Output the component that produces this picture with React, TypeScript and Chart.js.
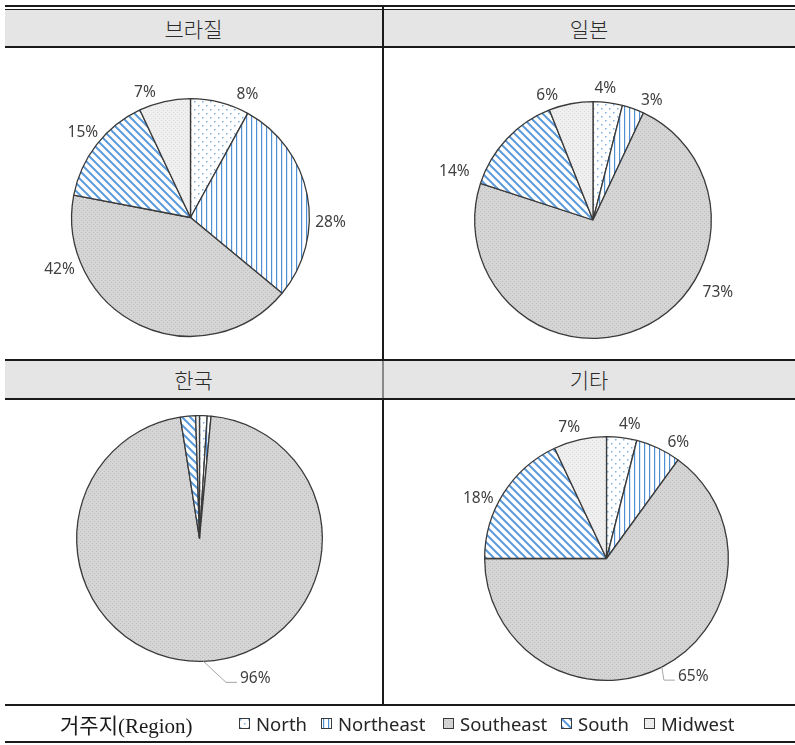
import React, { useEffect, useRef } from "react";
import { Chart, registerables } from "chart.js";

Chart.register(...registerables);

// ---- data ----
const regions = ["North", "Northeast", "Southeast", "South", "Midwest"];
const panelTitles = ["브라질", "일본", "한국", "기타"];
const brazilShare = [8, 28, 42, 15, 7];
const japanShare = [4, 3, 73, 14, 6];
const koreaShare = [1, 0.5, 96, 2, 0.5];
const otherShare = [4, 6, 65, 18, 7];
const legendTitle = "거주지(Region)";

// ---- layout ----
const W = 795;
const H = 745;
const PAD = 62;
const LABEL_FONT = 15.5;

type PanelLayout = {
  values: number[];
  cx: number;
  cy: number;
  r: number;
  nudge: number[]; // degrees added to each slice's label angle
  extraGap: number[]; // extra distance of each label from the rim
  leader: boolean[];
  leaderGap: number;
};

const panels: PanelLayout[] = [
  { values: brazilShare, cx: 190, cy: 217.5, r: 119.5, nudge: [10, 13, 42, 2, -7], extraGap: [2, 0, 2, 0, 0], leader: [false, false, false, false, false], leaderGap: 18 },
  { values: japanShare, cx: 592.5, cy: 220, r: 119, nudge: [-2, 6, -35, -23, -9], extraGap: [0, 0, 7, 8, 0], leader: [false, false, false, false, false], leaderGap: 18 },
  { values: koreaShare, cx: 199, cy: 538, r: 123.5, nudge: [0, 0, -19, 0, 0], extraGap: [0, 0, 0, 0, 0], leader: [false, false, true, false, false], leaderGap: 19 },
  { values: otherShare, cx: 606, cy: 558, r: 122.5, nudge: [2.5, 6, -8, -6, -3], extraGap: [0, 0, 0, 0, 0], leader: [false, false, true, false, false], leaderGap: 14 },
];

const legendX = [239, 321, 443, 561, 644];

// ---- fill patterns ----
function makePattern(kind: number): CanvasPattern | string {
  const c = document.createElement("canvas");
  const g = c.getContext("2d");
  if (!g) return "#ccc";
  const blue = "#4f8fd6";
  if (kind === 0) {
    // sparse dots
    c.width = 8;
    c.height = 8;
    g.fillStyle = "#ffffff";
    g.fillRect(0, 0, 8, 8);
    g.fillStyle = "#7fb0e4";
    g.fillRect(1, 1, 1.5, 1.5);
    g.fillRect(5, 5, 1.5, 1.5);
  } else if (kind === 1) {
    // vertical lines
    c.width = 5;
    c.height = 5;
    g.fillStyle = "#ffffff";
    g.fillRect(0, 0, 5, 5);
    g.fillStyle = blue;
    g.fillRect(2, 0, 1.2, 5);
  } else if (kind === 2) {
    // grey with fine grain
    c.width = 4;
    c.height = 4;
    g.fillStyle = "#d5d5d5";
    g.fillRect(0, 0, 4, 4);
    g.fillStyle = "#bcbcbc";
    g.fillRect(0, 0, 1, 1);
    g.fillRect(2, 2, 1, 1);
  } else if (kind === 3) {
    // wide downward diagonal
    c.width = 8;
    c.height = 8;
    g.fillStyle = "#ffffff";
    g.fillRect(0, 0, 8, 8);
    g.strokeStyle = "#5b9bdc";
    g.lineWidth = 2;
    for (let k = -1; k <= 1; k++) {
      g.beginPath();
      g.moveTo(-2, -2 + 8 * k);
      g.lineTo(10, 10 + 8 * k);
      g.stroke();
    }
  } else {
    // light grey with fine grain
    c.width = 4;
    c.height = 4;
    g.fillStyle = "#efefef";
    g.fillRect(0, 0, 4, 4);
    g.fillStyle = "#dcdcdc";
    g.fillRect(0, 0, 1, 1);
    g.fillRect(2, 2, 1, 1);
  }
  return g.createPattern(c, "repeat") || "#ccc";
}

// ---- outside percentage labels ----
const sliceLabels = {
  id: "sliceLabels",
  afterDatasetsDraw(chart: any, _args: any, opts: any) {
    const ctx: CanvasRenderingContext2D = chart.ctx;
    const meta = chart.getDatasetMeta(0);
    const values: number[] = chart.data.datasets[0].data;
    ctx.save();
    ctx.font = `${LABEL_FONT}px "Noto Sans", "DejaVu Sans", sans-serif`;
    ctx.fillStyle = "#404040";
    ctx.textAlign = "center";
    ctx.textBaseline = "middle";
    meta.data.forEach((arc: any, i: number) => {
      const v = values[i];
      if (v < 3) return;
      const p = arc.getProps(["x", "y", "startAngle", "endAngle", "outerRadius"], true);
      const mid = (p.startAngle + p.endAngle) / 2;
      const a = mid + ((opts.nudge?.[i] ?? 0) * Math.PI) / 180;
      const dx = Math.cos(a);
      const dy = Math.sin(a);
      const text = `${v}%`;
      const w = ctx.measureText(text).width;
      const h = LABEL_FONT;
      const hasLeader = !!opts.leader?.[i];
      const gap = hasLeader ? opts.leaderGap : 6 + (opts.extraGap?.[i] ?? 0);
      const lx = p.x + (p.outerRadius + gap) * dx + (dx * w) / 2;
      const ly = p.y + (p.outerRadius + gap) * dy + (dy * h) / 2;
      if (hasLeader) {
        const ex = p.x + p.outerRadius * Math.cos(mid);
        const ey = p.y + p.outerRadius * Math.sin(mid);
        const endX = lx - w / 2 - 3;
        const lineY = ly + 4;
        ctx.save();
        ctx.strokeStyle = "#a6a6a6";
        ctx.lineWidth = 1;
        ctx.beginPath();
        ctx.moveTo(ex, ey);
        ctx.lineTo(endX - 11, lineY);
        ctx.lineTo(endX, lineY);
        ctx.stroke();
        ctx.restore();
      }
      ctx.fillText(text, lx, ly);
    });
    ctx.restore();
  },
};

function PiePanel({ layout }: { layout: PanelLayout }) {
  const ref = useRef<HTMLCanvasElement>(null);
  const size = Math.round(2 * (layout.r + PAD));
  useEffect(() => {
    if (!ref.current) return;
    const fills = regions.map((_, i) => makePattern(i));
    const chart = new Chart(ref.current, {
      type: "pie",
      data: {
        labels: regions,
        datasets: [
          {
            data: layout.values,
            backgroundColor: fills as any,
            borderColor: "#3a3a3a",
            borderWidth: 1.3,
          },
        ],
      },
      options: {
        responsive: false,
        animation: false,
        layout: { padding: PAD },
        plugins: {
          legend: { display: false },
          tooltip: { enabled: false },
          sliceLabels: {
            nudge: layout.nudge,
            extraGap: layout.extraGap,
            leader: layout.leader,
            leaderGap: layout.leaderGap,
          },
        } as any,
      },
      plugins: [sliceLabels],
    });
    return () => chart.destroy();
  }, [layout]);
  return (
    <canvas
      ref={ref}
      width={size}
      height={size}
      style={{
        position: "absolute",
        left: layout.cx - size / 2,
        top: layout.cy - size / 2,
        width: size,
        height: size,
      }}
    />
  );
}

function Swatch({ kind }: { kind: number }) {
  const ref = useRef<HTMLCanvasElement>(null);
  useEffect(() => {
    const c = ref.current;
    if (!c) return;
    const g = c.getContext("2d");
    if (!g) return;
    g.clearRect(0, 0, 11, 11);
    g.fillStyle = makePattern(kind) as any;
    g.fillRect(0.5, 0.5, 10, 10);
    g.strokeStyle = "#3a3a3a";
    g.lineWidth = 1;
    g.strokeRect(0.5, 0.5, 10, 10);
  }, [kind]);
  return <canvas ref={ref} width={11} height={11} style={{ width: 11, height: 11, display: "block" }} />;
}

const line = (left: number, top: number, width: number, height: number, color = "#1a1a1a"): React.CSSProperties => ({
  position: "absolute",
  left,
  top,
  width,
  height,
  background: color,
});

const headerText: React.CSSProperties = {
  position: "absolute",
  display: "flex",
  alignItems: "center",
  justifyContent: "center",
  fontFamily: '"Noto Sans CJK KR", "Noto Sans", sans-serif',
  fontSize: 21,
  fontWeight: 300,
  color: "#2a2a2a",
};

export default function App() {
  return (
    <div style={{ position: "fixed", left: 0, top: 0, width: W, height: H, background: "#ffffff", overflow: "hidden" }}>
      {/* top header band */}
      <div style={line(5, 5, W - 5, 2)} />
      <div style={line(5, 9, W - 5, 1)} />
      <div style={line(5, 10, W - 5, 36, "#e5e5e5")} />
      <div style={line(5, 46, W - 5, 2)} />
      {/* middle header band */}
      <div style={line(5, 359, W - 5, 1.5)} />
      <div style={line(5, 360.5, W - 5, 37.5, "#e5e5e5")} />
      <div style={line(5, 398, W - 5, 1.5)} />
      {/* column divider */}
      <div style={line(382, 5, 1.5, 699)} />
      <div style={line(382, 360.5, 1.5, 37.5, "#8a8a8a")} />
      {/* legend band */}
      <div style={line(5, 704, W - 5, 2)} />
      <div style={line(5, 741, W - 5, 2)} />

      <div style={{ ...headerText, left: 5, top: 10, width: 377, height: 36 }}>{panelTitles[0]}</div>
      <div style={{ ...headerText, left: 383, top: 10, width: 412, height: 36 }}>{panelTitles[1]}</div>
      <div style={{ ...headerText, left: 5, top: 360, width: 377, height: 38 }}>{panelTitles[2]}</div>
      <div style={{ ...headerText, left: 383, top: 360, width: 412, height: 38 }}>{panelTitles[3]}</div>

      {panels.map((p, i) => (
        <PiePanel key={i} layout={p} />
      ))}

      <div
        style={{
          position: "absolute",
          left: 60,
          top: 706,
          height: 35,
          display: "flex",
          alignItems: "center",
          fontFamily: '"Liberation Serif", "Noto Sans CJK KR", serif',
          fontSize: 21,
          color: "#1a1a1a",
          whiteSpace: "nowrap",
        }}
      >
        {legendTitle}
      </div>
      {regions.map((name, i) => (
        <div
          key={name}
          style={{
            position: "absolute",
            left: legendX[i],
            top: 706,
            height: 35,
            display: "flex",
            alignItems: "center",
            fontFamily: '"Noto Sans", "DejaVu Sans", sans-serif',
            fontSize: 18.5,
            color: "#262626",
            whiteSpace: "nowrap",
          }}
        >
          <Swatch kind={i} />
          <span style={{ marginLeft: 6 }}>{name}</span>
        </div>
      ))}
    </div>
  );
}
